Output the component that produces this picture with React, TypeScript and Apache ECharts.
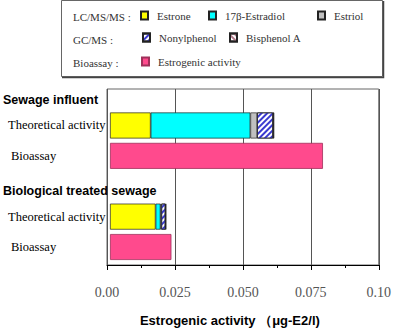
import React, { useEffect, useRef } from 'react';
import * as echarts from 'echarts';

// Rows of the category axis (top to bottom)
const rowLabels = ['Sewage influent', 'Theoretical activity', 'Bioassay', 'Biological treated sewage', 'Theoretical activity', 'Bioassay'];
const rowKinds = ['h', 't', 'b', 'h', 't', 'b'];
// Values per sample: [Sewage influent, Biological treated sewage]  (µg-E2/l)
const estrone = [0.0149, 0.0167];
const estradiol = [0.0365, 0.0018];
const estriol = [0.0025, 0.0003];
const nonylphenol = [0.0058, 0.0015];
const bisphenolA = [0.0004, 0.0002];
const estrogenicActivity = [0.078, 0.0225];
const tickLabels = ['0.00', '0.025', '0.050', '0.075', '0.10'];
const groupLabels = ['LC/MS/MS :', 'GC/MS :', 'Bioassay :'];

const sampleOf = (i: number) => (i < 3 ? 0 : 1);
const rowsFor = (kind: string, vals: number[]) =>
  rowKinds.map((k, i) => (k === kind ? vals[sampleOf(i)] : '-'));

export default function App() {
  const ref = useRef<HTMLDivElement>(null);
  useEffect(() => {
    if (!ref.current) return;
    const chart = echarts.init(ref.current, null, { renderer: 'svg' });
    const serif = 'Liberation Serif';
    const sans = 'Liberation Sans';
    const barBase = {
      type: 'bar',
      xAxisIndex: 1,
      yAxisIndex: 1,
      barWidth: 26,
      barGap: '-100%',
    };
    const legendBase = {
      itemWidth: 7,
      itemHeight: 8,
      padding: 0,
      icon: 'rect',
      selectedMode: false,
      textStyle: { fontFamily: serif, fontSize: 11, color: '#333', padding: [0, 0, 0, 4] },
    };
    const option: any = {
      animation: false,
      backgroundColor: '#fff',
      grid: [
        { left: 107, right: 11, top: 89, bottom: 61, show: true, borderColor: '#666', borderWidth: 1 },
        { left: 107, right: 11, top: 79.9, height: 182.3 },
      ],
      xAxis: [
        {
          gridIndex: 0,
          type: 'value',
          min: 0,
          max: 0.1,
          interval: 0.025,
          axisLine: { show: true, lineStyle: { color: '#000', width: 1 } },
          axisTick: { show: true, length: 5, lineStyle: { color: '#000' } },
          minorTick: { show: true, splitNumber: 2, length: 3, lineStyle: { color: '#000' } },
          splitLine: { show: true, lineStyle: { color: '#555', width: 1 } },
          axisLabel: {
            margin: 20,
            fontFamily: serif,
            fontSize: 14,
            color: '#555',
            formatter: (v: number) => tickLabels[Math.round(v / 0.025)],
          },
          name: 'Estrogenic activity （μg-E2/l)',
          nameLocation: 'middle',
          nameGap: 49,
          nameTextStyle: { fontFamily: sans, fontWeight: 'bold', fontSize: 13, color: '#000', padding: [0, 26, 0, 0] },
        },
        { gridIndex: 1, type: 'value', min: 0, max: 0.1, show: false },
      ],
      yAxis: [
        { gridIndex: 0, type: 'value', show: false },
        {
          gridIndex: 1,
          type: 'category',
          inverse: true,
          data: rowLabels,
          axisLine: { show: false },
          axisTick: { show: false },
          splitLine: { show: false },
          axisLabel: {
            interval: 0,
            align: 'left',
            margin: 107,
            formatter: (v: string, i: number) => `{${rowKinds[i]}|${v}}`,
            rich: {
              h: { fontFamily: sans, fontWeight: 'bold', fontSize: 12.5, color: '#000', padding: [10, 0, 0, 0] },
              t: { fontFamily: serif, fontSize: 12.5, color: '#000', padding: [0, 0, 0, 5] },
              b: { fontFamily: serif, fontSize: 12.5, color: '#000', padding: [0, 0, 0, 8] },
            },
          },
        },
      ],
      legend: [
        { ...legendBase, data: ['Estrone'], left: 140, top: 10 },
        { ...legendBase, data: ['17β-Estradiol'], left: 208, top: 10 },
        { ...legendBase, data: ['Estriol'], left: 317, top: 10 },
        { ...legendBase, data: ['Nonylphenol'], left: 142, top: 32 },
        { ...legendBase, data: ['Bisphenol A'], left: 229, top: 32 },
        { ...legendBase, data: ['Estrogenic activity'], left: 141, top: 56 },
      ],
      graphic: [
        {
          type: 'rect',
          z: -10,
          shape: { x: 61.5, y: 0.5, width: 321, height: 76 },
          style: { fill: '#fff', stroke: '#666', lineWidth: 1 },
        },
        {
          type: 'polyline',
          z: -9,
          shape: { points: [[62, 77.5], [383.5, 77.5], [383.5, 1]] },
          style: { fill: null, stroke: '#444', lineWidth: 1.5 },
        },
        ...groupLabels.map((t, i) => ({
          type: 'text',
          left: 73,
          top: [11, 34, 57][i],
          style: { text: t, fontFamily: serif, fontSize: 11, fill: '#333' },
        })),
      ],
      series: [
        { ...barBase, name: 'Estrone', stack: 'theo', data: rowsFor('t', estrone),
          itemStyle: { color: '#ffff00', borderColor: '#222', borderWidth: 0.7 } },
        { ...barBase, name: '17β-Estradiol', stack: 'theo', data: rowsFor('t', estradiol),
          itemStyle: { color: '#00ffff', borderColor: '#222', borderWidth: 0.7 } },
        { ...barBase, name: 'Estriol', stack: 'theo', data: rowsFor('t', estriol),
          itemStyle: { color: '#c0c0c0', borderColor: '#222', borderWidth: 0.7 } },
        { ...barBase, name: 'Nonylphenol', stack: 'theo', data: rowsFor('t', nonylphenol),
          itemStyle: {
            color: '#ffffff', borderColor: '#222', borderWidth: 0.7,
            decal: { color: '#3a3ad0', dashArrayX: [1, 0], dashArrayY: [1.3, 1.7], rotation: -Math.PI / 4 },
          } },
        { ...barBase, name: 'Bisphenol A', stack: 'theo', data: rowsFor('t', bisphenolA),
          itemStyle: {
            color: '#ffffff', borderColor: '#222', borderWidth: 0.7,
            decal: { color: '#b07888', dashArrayX: [1, 0], dashArrayY: [1.3, 1.7], rotation: Math.PI / 4 },
          } },
        { ...barBase, name: 'Estrogenic activity', stack: 'bio', data: rowsFor('b', estrogenicActivity),
          itemStyle: { color: '#ff4a8d', borderColor: '#a0305a', borderWidth: 0.8 } },
      ],
    };
    chart.setOption(option);
    return () => chart.dispose();
  }, []);
  return <div ref={ref} style={{ position: 'fixed', left: 0, top: 0, width: 394, height: 332 }} />;
}
